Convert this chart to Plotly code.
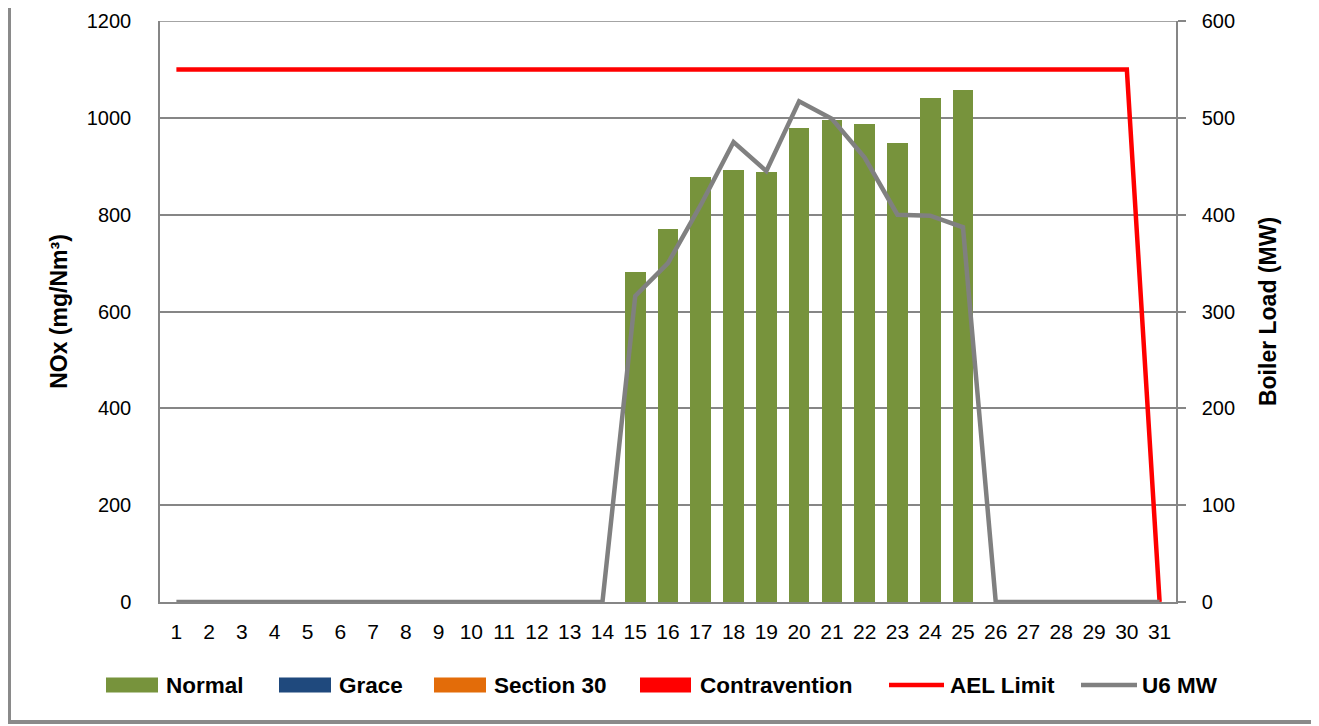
import plotly.graph_objects as go

days = list(range(1, 32))
normal = [0]*14 + [682, 771, 877, 892, 888, 979, 995, 988, 947, 1040, 1058] + [0]*6
grace = [0]*31
section30 = [0]*31
contravention = [0]*31
ael_limit = [1100]*30 + [0]
u6_mw = [0]*14 + [316, 350, 410, 475, 445, 517, 499, 459, 400, 399, 387] + [0]*6

left_ticks = [0, 200, 400, 600, 800, 1000, 1200]
right_ticks = [0, 100, 200, 300, 400, 500, 600]

bar_series = [("Normal", normal, "#77933C"), ("Grace", grace, "#1F497D"),
              ("Section 30", section30, "#E36C09"), ("Contravention", contravention, "#FF0000")]
line_series = [("AEL Limit", ael_limit, "#FF0000", "y"), ("U6 MW", u6_mw, "#808080", "y2")]

# page body has an 8px margin; the figure is sized so the page matches 1319x726
OFF = 8
W, H = 1319 - OFF, 726 - OFF
# plot area in page (reference) pixels
L, R, T, B = 160, 1176, 21, 602

def px(x):
    return (x - L) / (R - L)

def py(y):
    return (B - y) / (B - T)

fig = go.Figure()
for name, vals, col in bar_series:
    fig.add_trace(go.Bar(x=days, y=vals, name=name, marker_color=col, width=0.63,
                         marker_line_width=0, showlegend=False))
for name, vals, col, ax in line_series:
    fig.add_trace(go.Scatter(x=days, y=vals, name=name, mode="lines", yaxis=ax,
                             line=dict(color=col, width=4.5), showlegend=False))

tickfont = dict(family="Liberation Sans", size=20, color="black")
titlefont = dict(family="Liberation Sans", size=23, color="black", weight="bold")

fig.update_layout(
    width=W, height=H, autosize=False,
    margin=dict(l=L - OFF, r=W - (R - OFF), t=T - OFF, b=H - (B - OFF), pad=0),
    paper_bgcolor="white", plot_bgcolor="white",
    barmode="stack",
    xaxis=dict(range=[0.5, 31.5], tickmode="array", tickvals=days, ticktext=[str(d) for d in days],
               showline=True, linecolor="#868686", linewidth=1.5, ticks="", showgrid=False,
               tickfont=dict(tickfont, size=21), ticklabelstandoff=10, zeroline=False,
               automargin=False, ticklabeloverflow="allow"),
    yaxis=dict(range=[0, 1200], tickvals=left_ticks, showline=True, linecolor="#868686",
               linewidth=1.5, gridcolor="#868686", gridwidth=1.5, ticks="", zeroline=False,
               tickfont=tickfont, ticklabelstandoff=23, automargin=False,
               ticklabeloverflow="allow",
               title=dict(text="NOx (mg/Nm³)", font=titlefont, standoff=13)),
    yaxis2=dict(range=[0, 600], tickvals=right_ticks, overlaying="y", side="right",
                showline=True, linecolor="#868686", linewidth=1.5, showgrid=False,
                ticks="outside", ticklen=8, tickcolor="#868686", tickwidth=1.5, zeroline=False,
                tickfont=tickfont, ticklabelstandoff=12, automargin=False,
                ticklabeloverflow="allow",
                title=dict(text="Boiler Load (MW)", font=titlefont, standoff=26)),
)

# top gridline (at the range edge) with its outside tick on the right axis
fig.add_shape(type="line", xref="paper", yref="y", x0=0, x1=px(R + 8),
              y0=left_ticks[-1], y1=left_ticks[-1], line=dict(color="#868686", width=1.5),
              layer="below")

# custom legend with wide swatches like the original
legend_y = 685
legend_items = [
    ("Normal", "#77933C", "bar", 106, 158, 164),
    ("Grace", "#1F497D", "bar", 279, 331, 337),
    ("Section 30", "#E36C09", "bar", 434, 486, 492),
    ("Contravention", "#FF0000", "bar", 640, 691, 698),
    ("AEL Limit", "#FF0000", "line", 889, 944, 948),
    ("U6 MW", "#808080", "line", 1081, 1137, 1140),
]
legfont = dict(family="Liberation Sans", size=22.5, color="black", weight="bold")
for name, col, kind, x0, x1, tx in legend_items:
    if kind == "bar":
        fig.add_shape(type="rect", xref="paper", yref="paper",
                      x0=px(x0), x1=px(x1), y0=py(legend_y + 7.5), y1=py(legend_y - 7.5),
                      fillcolor=col, line_width=0)
    else:
        fig.add_shape(type="line", xref="paper", yref="paper",
                      x0=px(x0), x1=px(x1), y0=py(legend_y), y1=py(legend_y),
                      line=dict(color=col, width=4.5))
    fig.add_annotation(text=name, xref="paper", yref="paper", x=px(tx), y=py(legend_y),
                       xanchor="left", yanchor="middle", showarrow=False, font=legfont)

# outer chart border
fig.add_shape(type="rect", xref="paper", yref="paper",
              x0=px(OFF + 1), x1=px(1316), y0=py(722), y1=py(-10),
              line=dict(color="#8a8a8a", width=4), fillcolor="rgba(0,0,0,0)", layer="above")

fig.write_html("out.html")
